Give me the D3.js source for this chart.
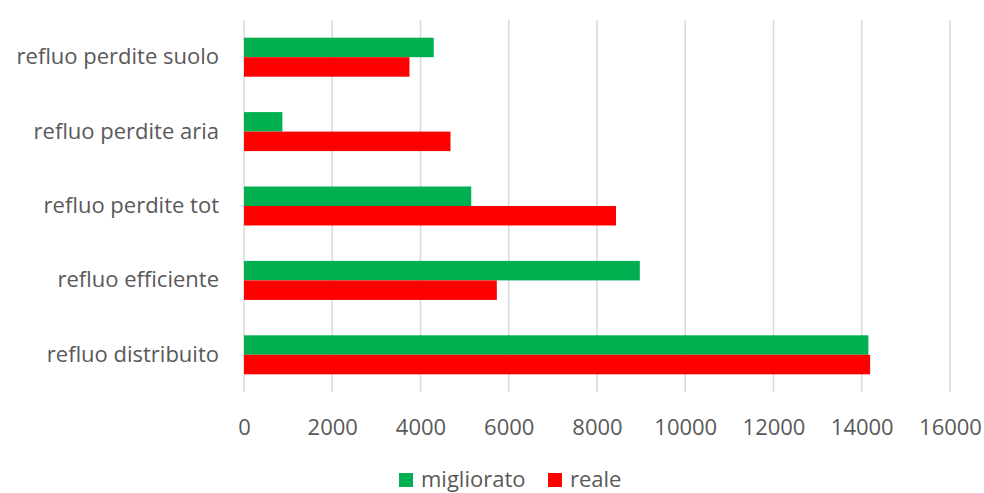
<!DOCTYPE html>
<html>
<head>
<meta charset="utf-8">
<script src="https://cdn.jsdelivr.net/npm/d3@7"></script>
<style>
  html, body { margin: 0; padding: 0; background: #fff; }
  svg { display: block; }
  text { font-family: "Open Sans", "Noto Sans", sans-serif; fill: #595959; }
</style>
</head>
<body>
<svg id="chart" width="984" height="493"></svg>
<script>
// Categories, listed top to bottom
const categories = [
  "refluo perdite suolo",
  "refluo perdite aria",
  "refluo perdite tot",
  "refluo efficiente",
  "refluo distribuito"
];
const seriesNames = ["migliorato", "reale"];
const migliorato = [4300, 870, 5150, 8970, 14150];
const reale = [3750, 4680, 8430, 5730, 14190];
const xTicks = [0, 2000, 4000, 6000, 8000, 10000, 12000, 14000, 16000];
const colors = { migliorato: "#00B050", reale: "#FF0000" };

const fontFamily = '"Open Sans", "Noto Sans", sans-serif';
const fontSize = 22;

const svg = d3.select("#chart");
const margin = { top: 20, right: 34, bottom: 101, left: 244 };
const width = 984 - margin.left - margin.right;
const height = 493 - margin.top - margin.bottom;

const g = svg.append("g").attr("transform", `translate(${margin.left},${margin.top})`);

const x = d3.scaleLinear().domain([0, 16000]).range([0, 706]);
const y = d3.scaleBand().domain(categories).range([0, height])
  .paddingInner(0.476).paddingOuter(0.238);
const ySub = d3.scaleBand().domain(seriesNames).range([0, y.bandwidth()]);

// Vertical gridlines
g.append("g").selectAll("line").data(xTicks).join("line")
  .attr("x1", d => x(d)).attr("x2", d => x(d))
  .attr("y1", 0).attr("y2", height)
  .attr("stroke", "#D9D9D9").attr("stroke-width", 1.5);

// Bars
const rows = categories.map((c, i) => ({
  category: c,
  values: [
    { key: "migliorato", value: migliorato[i] },
    { key: "reale", value: reale[i] }
  ]
}));

g.append("g").selectAll("g").data(rows).join("g")
  .attr("transform", d => `translate(0,${y(d.category)})`)
  .selectAll("rect").data(d => d.values).join("rect")
  .attr("x", x(0))
  .attr("y", d => ySub(d.key))
  .attr("width", d => x(d.value) - x(0))
  .attr("height", ySub.bandwidth())
  .attr("fill", d => colors[d.key]);

// X axis labels
const xAxis = d3.axisBottom(x).tickValues(xTicks).tickSize(0).tickPadding(0).tickFormat(d3.format("d"));
const xg = g.append("g").attr("transform", `translate(0,${height + 43})`).call(xAxis);
xg.select(".domain").remove();
xg.selectAll("text").attr("font-size", fontSize).attr("fill", "#595959")
  .style("font-family", fontFamily).attr("dy", 0);

// Y axis labels
const yAxis = d3.axisLeft(y).tickSize(0).tickPadding(25);
const yg = g.append("g").call(yAxis);
yg.select(".domain").remove();
yg.selectAll("text").attr("font-size", fontSize).attr("fill", "#595959")
  .style("font-family", fontFamily);

// Legend
const legendItems = [
  { key: "migliorato", x: 399 },
  { key: "reale", x: 548 }
];
const legend = svg.append("g");
legendItems.forEach(item => {
  legend.append("rect").attr("x", item.x).attr("y", 473).attr("width", 14).attr("height", 14)
    .attr("fill", colors[item.key]);
  legend.append("text").attr("x", item.x + 22).attr("y", 487)
    .attr("font-size", fontSize).text(item.key);
});
</script>
</body>
</html>
